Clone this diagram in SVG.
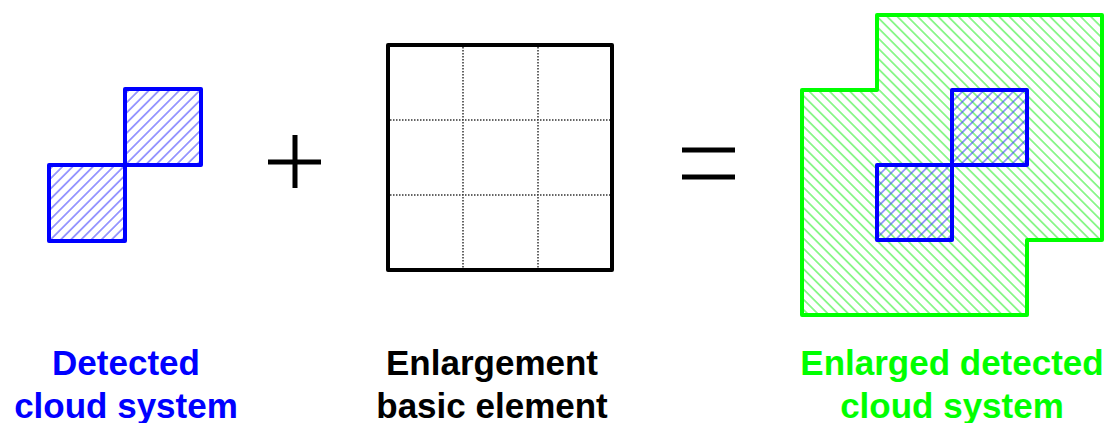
<svg xmlns="http://www.w3.org/2000/svg" width="1111" height="423" viewBox="0 0 1111 423">
<style>
.lbl{font-family:"Liberation Sans",Arial,sans-serif;font-weight:bold;font-size:35px;text-anchor:middle}
.blue{stroke:#0000ff;stroke-width:4;stroke-linejoin:round}
.green{stroke:#00ff00;stroke-width:4;stroke-linejoin:round}
.dot{stroke:#333;stroke-width:1.5;stroke-dasharray:1.5 1.5}
.op{stroke:#000;stroke-width:5;fill:none}
</style>
<defs>
<pattern id="hb" width="7.2" height="7.2" patternUnits="userSpaceOnUse" patternTransform="rotate(45)">
<line x1="3.6" y1="0" x2="3.6" y2="7.2" stroke="#2a2aff" stroke-width="0.9"/>
</pattern>
<pattern id="hg" width="7.2" height="7.2" patternUnits="userSpaceOnUse" patternTransform="rotate(-45)">
<line x1="3.6" y1="0" x2="3.6" y2="7.2" stroke="#11ee11" stroke-width="0.9"/>
</pattern>
</defs>
<rect width="1111" height="423" fill="#fff"/>
<g id="detected">
<rect x="125" y="89" width="76" height="76" fill="url(#hb)" class="blue"/>
<rect x="49" y="165" width="76" height="76" fill="url(#hb)" class="blue"/>
<text class="lbl" x="126" y="375" fill="#0000ff">Detected</text>
<text class="lbl" x="126" y="418" fill="#0000ff">cloud system</text>
</g>
<g id="plus"><path class="op" d="M268 162H321M295 135V188"/></g>
<g id="element">
<rect x="388" y="45" width="224" height="225" fill="#fff" stroke="#000" stroke-width="4" stroke-linejoin="round"/>
<path class="dot" d="M463 47V268M538 47V268M390 120H610M390 195H610"/>
<text class="lbl" x="492" y="375" fill="#000">Enlargement</text>
<text class="lbl" x="492" y="418" fill="#000">basic element</text>
</g>
<g id="equals"><path class="op" d="M682 150H735M682 177H735"/></g>
<g id="enlarged">
<path class="green" fill="url(#hg)" d="M877 15H1102V240H1027V315H802V90H877Z"/>
<rect x="952" y="90" width="75" height="75" fill="url(#hb)" class="blue"/>
<rect x="877" y="165" width="75" height="75" fill="url(#hb)" class="blue"/>
<text class="lbl" x="952" y="375" fill="#00ff00">Enlarged detected</text>
<text class="lbl" x="952" y="418" fill="#00ff00">cloud system</text>
</g>
</svg>
